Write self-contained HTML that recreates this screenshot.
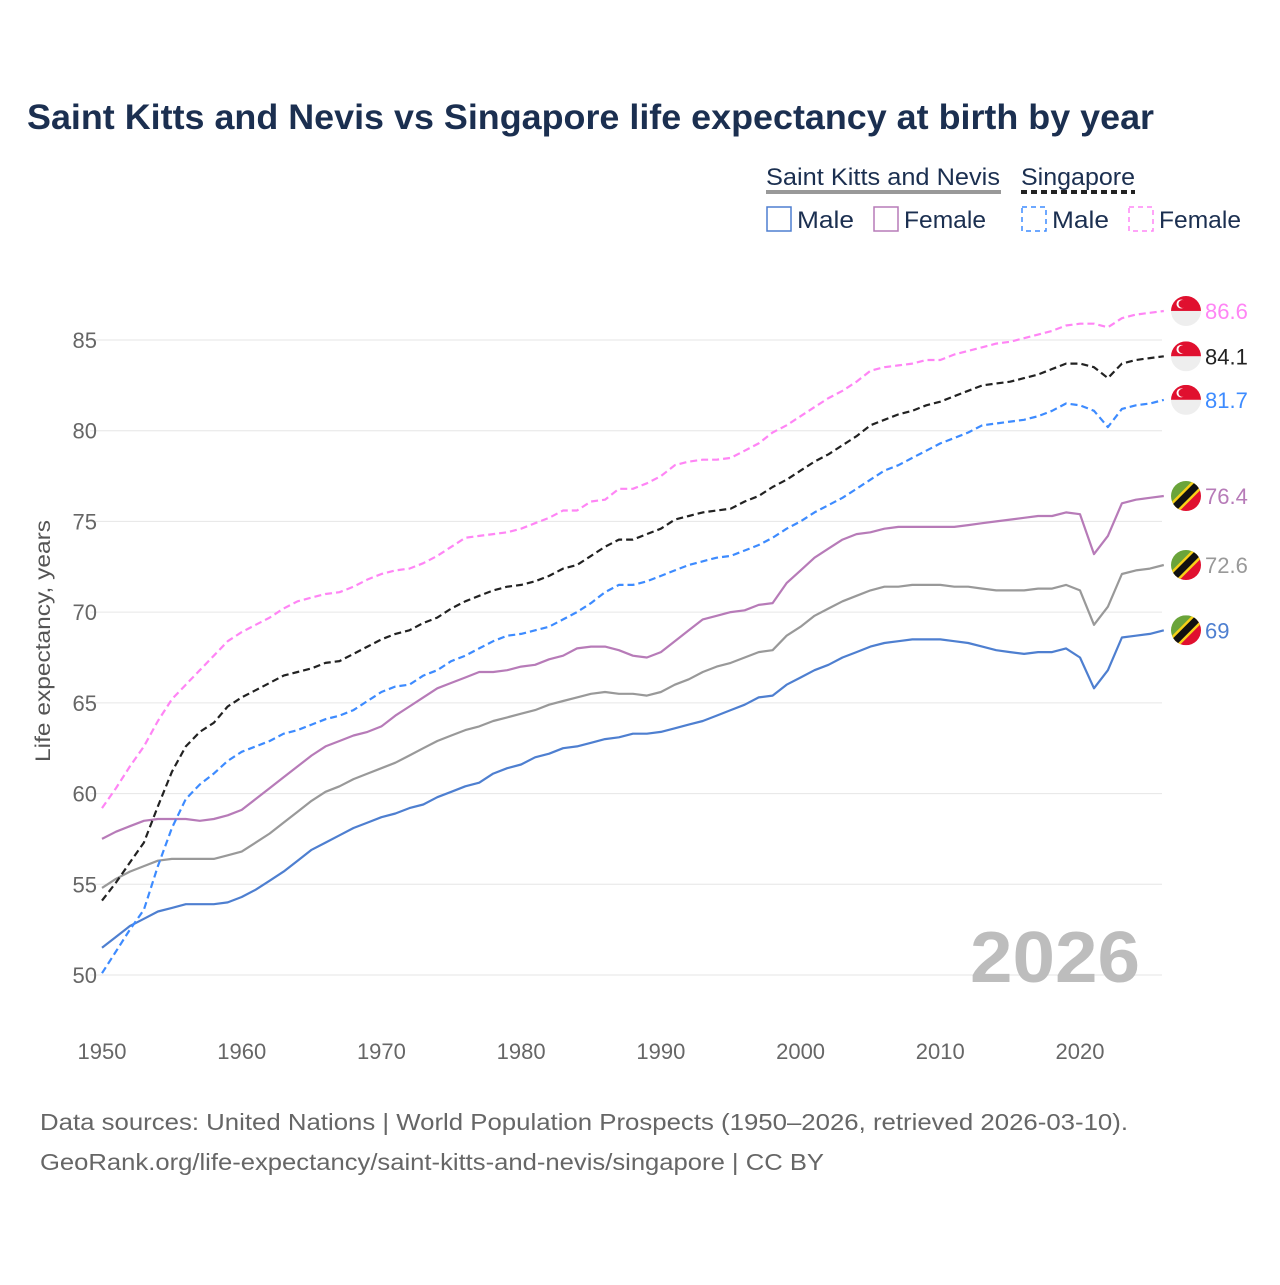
<!DOCTYPE html>
<html><head><meta charset="utf-8"><style>
body{margin:0;background:#fff;}
svg text{font-family:"Liberation Sans",sans-serif;}
</style></head><body>
<svg id="chart" width="1280" height="1280" viewBox="0 0 1280 1280" xmlns="http://www.w3.org/2000/svg">
<text x="27" y="129" font-size="35" font-weight="bold" fill="#1b2f50" textLength="1127" lengthAdjust="spacingAndGlyphs">Saint Kitts and Nevis vs Singapore life expectancy at birth by year</text>
<g font-size="24" fill="#1b2f50">
<text x="766" y="185" fill="#1b2f50" textLength="234" lengthAdjust="spacingAndGlyphs">Saint Kitts and Nevis</text>
<rect x="766" y="190" width="235" height="4" fill="#999"/>
<text x="1021" y="185" fill="#1b2f50" textLength="114" lengthAdjust="spacingAndGlyphs">Singapore</text>
<line x1="1021" y1="192" x2="1135" y2="192" stroke="#222" stroke-width="4" stroke-dasharray="6,4"/>
<rect x="767" y="207" width="24" height="24" fill="none" stroke="#4e7fd0" stroke-width="1.5"/>
<text x="797" y="228" fill="#1b2f50" textLength="57" lengthAdjust="spacingAndGlyphs">Male</text>
<rect x="874" y="207" width="24" height="24" fill="none" stroke="#b77bb8" stroke-width="1.5"/>
<text x="904" y="228" fill="#1b2f50" textLength="82" lengthAdjust="spacingAndGlyphs">Female</text>
<rect x="1022" y="207" width="24" height="24" fill="none" stroke="#3d8bff" stroke-width="1.5" stroke-dasharray="5,4"/>
<text x="1052" y="228" fill="#1b2f50" textLength="57" lengthAdjust="spacingAndGlyphs">Male</text>
<rect x="1129" y="207" width="24" height="24" fill="none" stroke="#ff85f5" stroke-width="1.5" stroke-dasharray="5,4"/>
<text x="1159" y="228" fill="#1b2f50" textLength="82" lengthAdjust="spacingAndGlyphs">Female</text>
</g>
<g id="grid"></g>
<g id="series"></g>
<g id="labels"></g>
<text x="1140" y="982" font-size="72" font-weight="bold" fill="#bdbdbd" text-anchor="end" textLength="170" lengthAdjust="spacingAndGlyphs">2026</text>
<text x="50" y="641" font-size="21" fill="#555" transform="rotate(-90 50 641)" text-anchor="middle" textLength="242" lengthAdjust="spacingAndGlyphs">Life expectancy, years</text>
<text x="40" y="1130" font-size="23" fill="#666" textLength="1088" lengthAdjust="spacingAndGlyphs">Data sources: United Nations | World Population Prospects (1950–2026, retrieved 2026-03-10).</text>
<text x="40" y="1170" font-size="23" fill="#666" textLength="784" lengthAdjust="spacingAndGlyphs">GeoRank.org/life-expectancy/saint-kitts-and-nevis/singapore | CC BY</text>
</svg>
<script>
const startYear = 1950;
const yTicks = [50,55,60,65,70,75,80,85];
const xTicks = [1950,1960,1970,1980,1990,2000,2010,2020];
const sknMale = [51.5,52.1,52.7,53.1,53.5,53.7,53.9,53.9,53.9,54.0,54.3,54.7,55.2,55.7,56.3,56.9,57.3,57.7,58.1,58.4,58.7,58.9,59.2,59.4,59.8,60.1,60.4,60.6,61.1,61.4,61.6,62.0,62.2,62.5,62.6,62.8,63.0,63.1,63.3,63.3,63.4,63.6,63.8,64.0,64.3,64.6,64.9,65.3,65.4,66.0,66.4,66.8,67.1,67.5,67.8,68.1,68.3,68.4,68.5,68.5,68.5,68.4,68.3,68.1,67.9,67.8,67.7,67.8,67.8,68.0,67.5,65.8,66.8,68.6,68.7,68.8,69.0];
const sknFemale = [57.5,57.9,58.2,58.5,58.6,58.6,58.6,58.5,58.6,58.8,59.1,59.7,60.3,60.9,61.5,62.1,62.6,62.9,63.2,63.4,63.7,64.3,64.8,65.3,65.8,66.1,66.4,66.7,66.7,66.8,67.0,67.1,67.4,67.6,68.0,68.1,68.1,67.9,67.6,67.5,67.8,68.4,69.0,69.6,69.8,70.0,70.1,70.4,70.5,71.6,72.3,73.0,73.5,74.0,74.3,74.4,74.6,74.7,74.7,74.7,74.7,74.7,74.8,74.9,75.0,75.1,75.2,75.3,75.3,75.5,75.4,73.2,74.2,76.0,76.2,76.3,76.4];
const sknTotal = [54.8,55.3,55.7,56.0,56.3,56.4,56.4,56.4,56.4,56.6,56.8,57.3,57.8,58.4,59.0,59.6,60.1,60.4,60.8,61.1,61.4,61.7,62.1,62.5,62.9,63.2,63.5,63.7,64.0,64.2,64.4,64.6,64.9,65.1,65.3,65.5,65.6,65.5,65.5,65.4,65.6,66.0,66.3,66.7,67.0,67.2,67.5,67.8,67.9,68.7,69.2,69.8,70.2,70.6,70.9,71.2,71.4,71.4,71.5,71.5,71.5,71.4,71.4,71.3,71.2,71.2,71.2,71.3,71.3,71.5,71.2,69.3,70.3,72.1,72.3,72.4,72.6];
const sgMale = [50.1,51.3,52.5,53.6,56.0,58.1,59.7,60.5,61.1,61.8,62.3,62.6,62.9,63.3,63.5,63.8,64.1,64.3,64.6,65.1,65.6,65.9,66.0,66.5,66.8,67.3,67.6,68.0,68.4,68.7,68.8,69.0,69.2,69.6,70.0,70.5,71.1,71.5,71.5,71.7,72.0,72.3,72.6,72.8,73.0,73.1,73.4,73.7,74.1,74.6,75.0,75.5,75.9,76.3,76.8,77.3,77.8,78.1,78.5,78.9,79.3,79.6,79.9,80.3,80.4,80.5,80.6,80.8,81.1,81.5,81.4,81.1,80.2,81.2,81.4,81.5,81.7];
const sgTotal = [54.1,55.1,56.2,57.3,59.3,61.2,62.6,63.4,63.9,64.8,65.3,65.7,66.1,66.5,66.7,66.9,67.2,67.3,67.7,68.1,68.5,68.8,69.0,69.4,69.7,70.2,70.6,70.9,71.2,71.4,71.5,71.7,72.0,72.4,72.6,73.1,73.6,74.0,74.0,74.3,74.6,75.1,75.3,75.5,75.6,75.7,76.1,76.4,76.9,77.3,77.8,78.3,78.7,79.2,79.7,80.3,80.6,80.9,81.1,81.4,81.6,81.9,82.2,82.5,82.6,82.7,82.9,83.1,83.4,83.7,83.7,83.5,82.9,83.7,83.9,84.0,84.1];
const sgFemale = [59.2,60.3,61.5,62.6,64.0,65.2,66.0,66.8,67.6,68.4,68.9,69.3,69.7,70.2,70.6,70.8,71.0,71.1,71.4,71.8,72.1,72.3,72.4,72.7,73.1,73.6,74.1,74.2,74.3,74.4,74.6,74.9,75.2,75.6,75.6,76.1,76.2,76.8,76.8,77.1,77.5,78.1,78.3,78.4,78.4,78.5,78.9,79.3,79.9,80.3,80.8,81.3,81.8,82.2,82.7,83.3,83.5,83.6,83.7,83.9,83.9,84.2,84.4,84.6,84.8,84.9,85.1,85.3,85.5,85.8,85.9,85.9,85.7,86.2,86.4,86.5,86.6];

const NS = "http://www.w3.org/2000/svg";
const xScale = y => 102 + (y - 1950) * (978 / 70);
const yScale = v => 975 - (v - 50) * (635 / 35);
function mk(tag, attrs, parent){const e=document.createElementNS(NS,tag);for(const k in attrs)e.setAttribute(k,attrs[k]);parent.appendChild(e);return e;}
const grid = document.getElementById('grid');
yTicks.forEach(t=>{
  const l = mk('line',{x1:90,x2:1162,y1:yScale(t),y2:yScale(t),stroke:'#e6e6e6','stroke-width':1},grid);
  
  
  const tx = mk('text',{x:97,y:yScale(t)+8,'font-size':22,fill:'#666','text-anchor':'end'},grid);
  tx.textContent = t;
  
  
});
xTicks.forEach(t=>{
  const tx = mk('text',{x:xScale(t),y:1059,'font-size':22,fill:'#666','text-anchor':'middle'},grid);
  tx.textContent = t;
  
  
});
const series = [
  {d:sknMale,c:'#4e7fd0',dash:null,name:'skn-male-line',flag:'skn',lc:'#4e7fd0',lab:'69'},
  {d:sknTotal,c:'#999999',dash:null,name:'skn-total-line',flag:'skn',lc:'#999',lab:'72.6'},
  {d:sknFemale,c:'#b77bb8',dash:null,name:'skn-female-line',flag:'skn',lc:'#b77bb8',lab:'76.4'},
  {d:sgMale,c:'#3d8bff',dash:'7,4',name:'sg-male-line',flag:'sg',lc:'#3d8bff',lab:'81.7'},
  {d:sgTotal,c:'#222222',dash:'7,4',name:'sg-total-line',flag:'sg',lc:'#222',lab:'84.1'},
  {d:sgFemale,c:'#ff85f5',dash:'7,4',name:'sg-female-line',flag:'sg',lc:'#ff85f5',lab:'86.6'}
];
const sg = document.getElementById('series'), lg = document.getElementById('labels');
series.forEach(s=>{
  const pts = s.d.map((v,i)=>xScale(startYear+i).toFixed(1)+','+yScale(v).toFixed(1)).join(' ');
  const a = {points:pts,fill:'none',stroke:s.c,'stroke-width':2.2,'stroke-linejoin':'round'};
  if(s.dash) a['stroke-dasharray']=s.dash;
  const p = mk('polyline',a,sg);
  
  
  const last = s.d[s.d.length-1];
  const cx = 1186, cy = yScale(last);
  const g = mk('g',{},lg);
  
  
  const cpId = 'cp'+s.name;
  const cp = mk('clipPath',{id:cpId},g);
  mk('circle',{cx:cx,cy:cy,r:15},cp);
  const inner = mk('g',{'clip-path':'url(#'+cpId+')'},g);
  if(s.flag==='sg'){
    mk('rect',{x:cx-15,y:cy-15,width:30,height:15,fill:'#e0102f'},inner);
    mk('rect',{x:cx-15,y:cy,width:30,height:15,fill:'#eeeeee'},inner);
    mk('circle',{cx:cx-5,cy:cy-7,r:4.5,fill:'#fff'},inner);
    mk('circle',{cx:cx-3.5,cy:cy-7,r:4,fill:'#e0102f'},inner);
  } else {
    mk('polygon',{points:`${cx-15},${cy-15} ${cx+15},${cy-15} ${cx-15},${cy+15}`,fill:'#6aa43a'},inner);
    mk('polygon',{points:`${cx+15},${cy-15} ${cx+15},${cy+15} ${cx-15},${cy+15}`,fill:'#e0102f'},inner);
    mk('line',{x1:cx-15,y1:cy+15,x2:cx+15,y2:cy-15,stroke:'#f7d117','stroke-width':12},inner);
    mk('line',{x1:cx-15,y1:cy+15,x2:cx+15,y2:cy-15,stroke:'#111','stroke-width':7},inner);
  }
  const t = mk('text',{x:1205,y:cy+8,'font-size':22,fill:s.lc},lg);
  t.textContent = s.lab;
  
  
});
</script>
</body></html>
